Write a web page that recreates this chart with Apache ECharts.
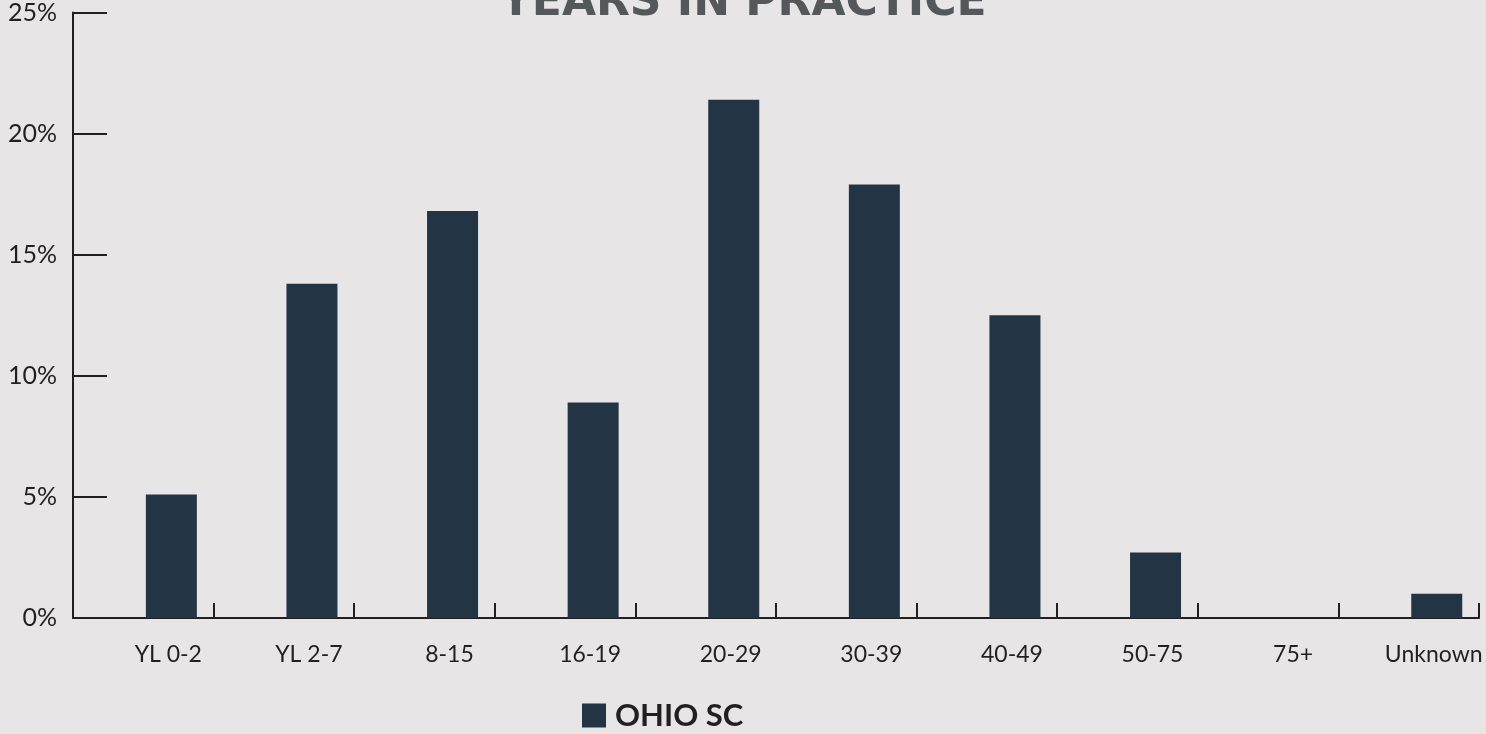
<!DOCTYPE html>
<html>
<head>
<meta charset="utf-8">
<title>Years in Practice</title>
<script src="https://cdn.jsdelivr.net/npm/echarts@6/dist/echarts.min.js"></script>
<style>
  html, body { margin: 0; padding: 0; background: #e7e5e6; }
  #chart { width: 1486px; height: 734px; }
</style>
</head>
<body>
<div id="chart"></div>
<script>
const categories = ["YL 0-2", "YL 2-7", "8-15", "16-19", "20-29", "30-39", "40-49", "50-75", "75+", "Unknown"];
const ohioValues = [5.1, 13.8, 16.8, 8.9, 21.4, 17.9, 12.5, 2.7, 0, 1.0];
// empty slot next to each bar (the source chart leaves room for a second series)
const spacerValues = [null, null, null, null, null, null, null, null, null, null];
const yTicks = { min: 0, max: 25, interval: 5 };

const ink = "#231f20";
const chart = echarts.init(document.getElementById("chart"));

chart.setOption({
  backgroundColor: "#e7e5e6",
  animation: false,
  title: {
    text: "YEARS IN PRACTICE",
    left: 495,
    top: -23,
    textStyle: {
      fontFamily: "DejaVu Sans",
      fontWeight: "bold",
      fontSize: 44,
      color: "#55585a",
    },
  },
  legend: {
    data: ["OHIO SC"],
    left: 577,
    top: 695,
    itemWidth: 24,
    itemHeight: 24,
    icon: "rect",
    textStyle: {
      fontFamily: "Lato",
      fontWeight: "bold",
      fontSize: 31,
      color: ink,
      padding: [0, 0, 0, 4],
    },
  },
  grid: {
    left: 73,
    right: 7,
    top: 12,
    bottom: 116,
  },
  xAxis: {
    type: "category",
    data: categories,
    axisLine: { show: true, lineStyle: { color: ink, width: 2 } },
    axisTick: {
      show: true,
      inside: true,
      length: 15,
      lineStyle: { color: ink, width: 2 },
    },
    axisLabel: {
      interval: 0,
      color: ink,
      fontFamily: "Lato",
      fontSize: 23,
      margin: 25,
      padding: [0, 0, 0, 50],
    },
  },
  yAxis: {
    type: "value",
    min: yTicks.min,
    max: yTicks.max,
    interval: yTicks.interval,
    axisLine: { show: true, lineStyle: { color: ink, width: 2 } },
    axisTick: {
      show: true,
      inside: true,
      length: 34,
      lineStyle: { color: ink, width: 2 },
    },
    splitLine: { show: false },
    axisLabel: {
      formatter: "{value}%",
      color: ink,
      fontFamily: "Lato",
      fontSize: 25,
      margin: 16,
    },
  },
  series: [
    {
      name: "spacer",
      type: "bar",
      data: spacerValues,
      barWidth: 51,
      barGap: "10%",
    },
    {
      name: "OHIO SC",
      type: "bar",
      data: ohioValues,
      barWidth: 51,
      barGap: "10%",
      itemStyle: { color: "#233545" },
    },
  ],
});

window.addEventListener("resize", () => chart.resize());
</script>
</body>
</html>
